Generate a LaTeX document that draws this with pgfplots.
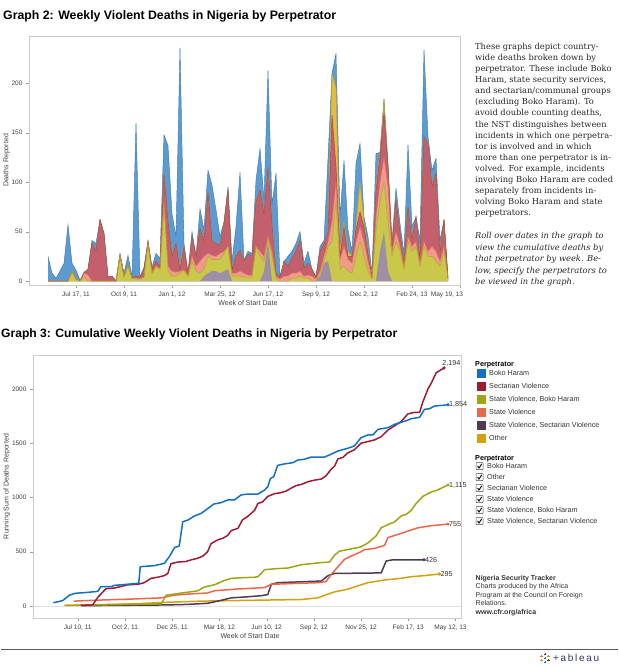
\documentclass[border=0pt]{standalone}
\usepackage{pgfplots}
\pgfplotsset{compat=1.18}
\usepgfplotslibrary{fillbetween}
\usepackage{pgfplotstable}
\usepackage{fontspec}
\setmainfont{Liberation Sans}
\newfontfamily\blockfont{DejaVu Serif}

\definecolor{cBH}{HTML}{1170C0}
\definecolor{cSe}{HTML}{9E1B34}
\definecolor{cSVBH}{HTML}{A0A315}
\definecolor{cSV}{HTML}{E9684D}
\definecolor{cSVSV}{HTML}{4F3A53}
\definecolor{cOt}{HTML}{D1A20E}
% lighter fills for the weekly area chart
\definecolor{fBH}{HTML}{5B9BD1}
\definecolor{eBH}{HTML}{3E7CB8}
\definecolor{fOt}{HTML}{E2BD3E}
\definecolor{eOt}{HTML}{D3A418}
\definecolor{fSe}{HTML}{C4606E}
\definecolor{eSe}{HTML}{A83A4C}
\definecolor{fSV}{HTML}{F1998B}
\definecolor{eSV}{HTML}{E3705A}
\definecolor{fSVBH}{HTML}{C9C84A}
\definecolor{eSVBH}{HTML}{B0AA26}
\definecolor{fSVSV}{HTML}{9D8FA6}

\newcommand\tickfont{\fontsize{6.5}{8}\selectfont}
\newcommand\legfont{\fontsize{7.2}{8.5}\selectfont}

% weekly deaths, stacked tops: B=total (Boko Haram on top), G=Other, R=Sectarian,
% S=State Violence, O=State V.+Boko Haram, P=State V.+Sectarian, Z=baseline
% w = weeks from Jul 17, 2011
\pgfplotstableread{
w B G R S O P Z
-7 25 0 0 0 0 0 0
-6 8 0 0 0 0 0 0
-5 3 0 0 0 0 0 0
-4 10 0 0 0 0 0 0
-3 18 0 0 0 0 0 0
-2 57 0 0 0 0 0 0
-1 18 10 10 10 10 0 0
0 11 2 2 2 2 0 0
1 1 0 0 0 0 0 0
2 9 8 8 8 4 0 0
3 12 12 12 6 0 0 0
4 41 38 38 0 0 0 0
5 38 30 30 0 0 0 0
6 62 62 62 0 0 0 0
7 48 48 48 0 0 0 0
8 4 4 4 0 0 0 0
9 5 5 5 0 0 0 0
10 0 0 0 0 0 0 0
11 28 26 26 26 26 0 0
12 8 5 5 5 5 0 0
13 26 16 16 16 16 0 0
14 4 3 3 3 3 0 0
15 160 5 5 3 2 0 0
16 4 4 4 2 2 0 0
17 14 12 12 4 4 0 0
18 41 40 40 38 38 0 0
19 14 12 12 8 8 0 0
20 28 20 20 15 15 0 0
21 23 15 15 12 12 0 0
22 148 109 109 80 78 0 0
23 137 60 60 15 10 0 0
24 68 25 25 10 5 0 0
25 45 38 38 9 5 0 0
26 236 15 12 10 8 0 0
27 38 35 35 11 11 0 0
28 8 8 8 6 4 0 0
29 50 45 45 25 20 0 0
30 25 25 25 15 10 0 0
31 73 53 53 20 8 0 0
32 52 40 40 25 12 5 0
33 112 90 90 28 25 8 0
34 97 41 41 26 22 10 0
35 72 38 38 25 22 10 0
36 45 36 36 28 22 8 0
37 60 58 58 30 28 10 0
38 95 92 92 35 35 12 0
39 20 11 11 8 5 0 0
40 55 25 25 8 5 0 0
41 110 31 31 10 5 0 0
42 21 20 20 8 4 0 0
43 30 27 27 6 4 0 0
44 28 25 25 6 4 0 0
45 102 80 80 35 35 0 0
46 134 92 92 30 25 0 0
47 82 67 67 25 20 10 0
48 213 115 115 45 42 40 0
49 77 57 57 30 25 0 0
50 109 8 8 5 3 0 0
51 4 4 4 2 0 0 0
52 20 20 20 5 0 0 0
53 25 15 15 5 0 0 0
54 30 23 23 8 3 0 0
55 38 30 30 8 3 0 0
56 50 41 41 10 5 0 0
57 18 13 13 5 3 0 0
58 30 18 18 6 3 0 0
59 12 12 12 5 0 0 0
60 4 4 4 2 0 0 0
61 35 30 30 10 8 5 0
62 41 38 38 25 20 18 0
63 124 50 50 40 35 20 0
64 210 210 168 60 40 0 0
65 230 195 116 100 80 0 0
66 65 30 25 22 12 0 0
67 122 60 55 35 15 0 0
68 52 30 25 22 10 0 0
69 30 25 25 18 8 0 0
70 119 55 52 40 25 0 0
71 139 100 70 55 40 0 0
72 65 60 55 40 25 0 0
73 45 30 28 20 10 0 0
74 8 6 4 3 2 0 0
75 129 95 92 65 50 0 0
76 130 130 126 100 80 30 0
77 184 184 170 125 99 50 0
78 118 116 116 95 60 10 0
79 40 35 35 30 25 0 0
80 94 82 82 50 40 0 0
81 58 48 48 35 30 0 0
82 28 18 18 15 12 0 0
83 138 75 75 45 40 0 0
84 55 41 41 35 30 0 0
85 65 65 65 40 35 0 0
86 41 21 21 18 15 0 0
87 234 146 146 40 35 0 0
88 146 139 139 30 25 0 0
89 112 95 95 35 25 0 0
90 124 109 109 30 20 0 0
91 41 28 28 20 15 0 0
92 62 62 62 35 30 0 0
93 3 3 3 3 3 0 0
}\weekly

\pgfplotsset{
  tab/.style={
    scale only axis,
    axis line style={draw=black!20},
    tick style={draw=black!40},
    major tick length=3pt,
    tick align=outside,
    xtick pos=bottom, ytick pos=left,
    tick label style={font=\tickfont, text=black!75},
    /pgf/number format/assume math mode=true,
    /pgf/number format/1000 sep={},
    label style={font=\fontsize{7}{8}\selectfont, text=black!75},
    clip=false,
  },
  edge/.style={draw=#1, line width=0.45pt, forget plot},
  hid/.style={draw=none, forget plot},
  cum/.style={draw=#1, line width=1.5pt, line join=round},
  endlab/.style={only marks, mark=*, mark size=1.4pt, color=#1,
    nodes near coords, point meta=explicit symbolic,
    every node near coord/.style={anchor=west, font=\legfont, text=black!80, inner sep=1pt}},
}

\begin{document}
\begin{tikzpicture}
\path (0pt,0pt) rectangle (617pt,-667pt);

% ---------- titles ----------
\node[anchor=base west, inner sep=0, font=\bfseries\fontsize{12.3}{14}\selectfont]
  at (2pt,-19.5pt) {Graph 2: Weekly Violent Deaths in Nigeria by Perpetrator};
\node[anchor=base west, inner sep=0, font=\bfseries\fontsize{12.1}{14}\selectfont]
  at (0pt,-337.5pt) {Graph 3: Cumulative Weekly Violent Deaths in Nigeria by Perpetrator};

% ---------- Graph 2 ----------
\begin{axis}[tab,
  at={(28pt,-285pt)}, anchor=south west,
  width=431pt, height=249pt,
  xmin=-11.75, xmax=96, ymin=-4, ymax=247.8,
  ytick={0,50,100,150,200},
  xtick={0,12,...,96},
  xticklabels={{Jul 17, 11},{Oct 9, 11},{Jan 1, 12},{Mar 25, 12},{Jun 17, 12},{Sep 9, 12},{Dec 2, 12},{Feb 24, 13},{\hspace*{-26pt}May 19, 13}},
  xlabel={Week of Start Date},
  ylabel={Deaths Reported},
  xlabel style={at={(axis description cs:0.508,-0.072)}, anchor=center},
  ylabel style={at={(axis description cs:-0.052,0.5)}, anchor=center},
]
\addplot[hid, name path=zero] table[x=w,y=Z]{\weekly};
\addplot[hid, name path=pB] table[x=w,y=B]{\weekly};
\addplot[hid, name path=pG] table[x=w,y=G]{\weekly};
\addplot[hid, name path=pR] table[x=w,y=R]{\weekly};
\addplot[hid, name path=pS] table[x=w,y=S]{\weekly};
\addplot[hid, name path=pO] table[x=w,y=O]{\weekly};
\addplot[hid, name path=pP] table[x=w,y=P]{\weekly};

\addplot[fill=fBH, draw=none, forget plot] fill between[of=pB and zero];
\addplot[edge=eBH] table[x=w,y=B]{\weekly};
\addplot[fill=fOt, draw=none, forget plot] fill between[of=pG and zero];
\addplot[edge=eOt] table[x=w,y=G]{\weekly};
\addplot[fill=fSe, draw=none, forget plot] fill between[of=pR and zero];
\addplot[edge=eSe] table[x=w,y=R]{\weekly};
\addplot[fill=fSV, draw=none, forget plot] fill between[of=pS and zero];
\addplot[edge=eSV] table[x=w,y=S]{\weekly};
\addplot[fill=fSVBH, draw=none, forget plot] fill between[of=pO and zero];
\addplot[edge=eSVBH] table[x=w,y=O]{\weekly};
\addplot[fill=fSVSV, draw=none, forget plot] fill between[of=pP and zero];
\end{axis}

% ---------- side text ----------
\node[anchor=north west, inner sep=0, align=left, text=black!85,
  font=\blockfont\fontsize{8.3}{11.07}\selectfont] at (474pt,-43pt)
{These graphs depict country-\\
wide deaths broken down by\\
perpetrator. These include Boko\\
Haram, state security services,\\
and sectarian/communal groups\\
(excluding Boko Haram). To\\
avoid double counting deaths,\\
the NST distinguishes between\\
incidents in which one perpetra-\\
tor is involved and in which\\
more than one perpetrator is in-\\
volved. For example, incidents\\
involving Boko Haram are coded\\
separately from incidents in-\\
volving Boko Haram and state\\
perpetrators.};
\node[anchor=north west, inner sep=0, align=left, text=black!85,
  font=\blockfont\itshape\fontsize{8.3}{11.6}\selectfont] at (474pt,-232pt)
{Roll over dates in the graph to\\
view the cumulative deaths by\\
that perpetrator by week. Be-\\
low, specify the perpetrators to\\
be viewed in the graph.};

% ---------- Graph 3 ----------
\begin{axis}[tab,
  at={(32pt,-618pt)}, anchor=south west,
  width=428pt, height=263pt,
  xmin=-11.36, xmax=97.4, ymin=-110.6, ymax=2313,
  ytick={0,500,1000,1500,2000},
  xtick={0,12,...,96},
  xticklabels={{Jul 10, 11},{Oct 2, 11},{Dec 25, 11},{Mar 18, 12},{Jun 10, 12},{Sep 2, 12},{Nov 25, 12},{Feb 17, 13},{\hspace*{-10pt}May 12, 13}},
  xlabel={Week of Start Date},
  ylabel={Running Sum of Deaths Reported},
  xlabel style={at={(axis description cs:0.507,-0.068)}, anchor=center},
  ylabel style={at={(axis description cs:-0.061,0.5)}, anchor=center},
]
\addplot[draw=black!12, line width=0.6pt, forget plot] coordinates {(-11.36,0) (97.4,0)};
\addplot[cum=cOt] coordinates {(-3.4,5) (14.4,20) (22.9,35) (31.4,45) (39.8,50) (48.3,55) (56.8,60) (61,75) (63.6,110) (65.3,130) (68.6,155) (72,195) (73.7,215) (78,240) (82.2,255) (84.7,270) (88.1,280) (91.9,295)};
\addplot[cum=cSVSV] coordinates {(0.8,3) (22.9,10) (28,15) (33,25) (35.6,45) (39,75) (43.2,85) (46.6,95) (48.3,105) (49.2,200) (50.8,215) (61.9,230) (63.6,280) (65.3,300) (77.1,305) (78.4,415) (80.1,426) (88,426)};
\addplot[cum=cSV] coordinates {(-1,45) (5.9,55) (14.4,65) (21.2,75) (24.6,100) (28,110) (33,120) (34.7,140) (39.8,155) (44.9,165) (47.5,170) (49.2,200) (56.8,210) (61,215) (63.1,225) (64.4,290) (66.1,360) (67.8,430) (69.5,460) (72,500) (72.9,520) (75.4,530) (78,560) (78.8,630) (81.4,660) (83.9,690) (86.4,720) (89.8,740) (94.1,755)};
\addplot[cum=cSVBH] coordinates {(-3,5) (21.2,20) (22.5,100) (24.6,110) (27.5,125) (30.5,140) (32.2,175) (34.7,195) (37.3,235) (39,255) (41.5,260) (44.9,265) (45.8,270) (47.5,335) (50.8,345) (53.4,350) (55.1,365) (56.8,380) (59.3,390) (61.9,400) (64,405) (65.3,470) (66.5,505) (68.6,520) (72,545) (73.7,580) (75.8,645) (77.1,720) (78.8,750) (80.5,775) (82.2,830) (83.5,845) (84.7,880) (86,945) (87.7,1010) (89.8,1050) (91.5,1070) (94.1,1115)};
\addplot[cum=cSe] coordinates {(0.8,5) (3.8,10) (5.1,80) (7.2,160) (9.3,165) (11,180) (12.7,195) (15.3,200) (16.9,215) (18.6,255) (20.3,265) (22,280) (22.9,300) (23.7,390) (25.4,405) (27.5,410) (28.8,425) (30.5,440) (31.8,460) (33,500) (33.9,575) (35.6,610) (36.9,625) (38.1,650) (39,695) (40.7,715) (41.9,795) (43.2,825) (44.9,880) (45.8,945) (47,960) (48.3,1010) (50,1035) (51.7,1045) (53,1060) (54.2,1085) (55.5,1110) (56.8,1120) (58.5,1145) (60.2,1160) (61.9,1170) (63.1,1200) (64.4,1260) (65.3,1290) (66.1,1355) (67.4,1370) (68.6,1410) (70.3,1440) (72,1500) (73.7,1515) (75.4,1530) (77.1,1560) (78.8,1620) (80.5,1660) (82.2,1700) (83.9,1770) (85.6,1785) (86.9,1785) (87.7,1880) (89,2000) (89.8,2050) (91.1,2150) (93.1,2194)};
\addplot[cum=cBH] coordinates {(-6.2,30) (-3.8,50) (-2.1,100) (-0.7,117) (1.7,123) (5.1,135) (5.9,178) (8.5,178) (9.3,190) (14.4,206) (15.5,209) (15.9,362) (19.5,372) (22,393) (23.3,455) (24.6,538) (25.8,553) (26.7,777) (28,792) (29.7,830) (31.4,854) (33,897) (34.6,940) (36.4,952) (38.1,977) (39.8,977) (41.5,1023) (43.2,1032) (45.8,1032) (47.5,1069) (48.3,1100) (49,1176) (49.8,1192) (50.8,1296) (52.5,1309) (54.7,1321) (55.9,1345) (57.6,1352) (59.3,1373) (62.7,1373) (64,1392) (66.1,1428) (68.6,1453) (70.3,1475) (72,1551) (73.7,1576) (75,1576) (76.3,1628) (78.8,1643) (80.5,1674) (82.2,1693) (83.5,1708) (84.7,1726) (86.9,1739) (88.1,1812) (89.4,1818) (90.7,1843) (94.1,1854)};
% end markers with totals
\addplot[endlab=cOt] coordinates {(91.9,295) [295]};
\addplot[endlab=cSVSV] coordinates {(88,426) [426]};
\addplot[endlab=cSV] coordinates {(94.1,755) [755]};
\addplot[endlab=cSVBH] coordinates {(94.1,1115) [1{,}115]};
\addplot[endlab=cBH] coordinates {(94.1,1854) [1{,}854]};
\addplot[endlab=cSe, every node near coord/.append style={anchor=south west, xshift=-3pt}] coordinates {(93.1,2194) [2{,}194]};
\end{axis}

% ---------- colour legend ----------
\node[anchor=base west, inner sep=0, font=\bfseries\legfont] at (474pt,-366pt) {Perpetrator};
\foreach \c/\t [count=\i from 0] in {cBH/Boko Haram, cSe/Sectarian Violence, cSVBH/{State Violence, Boko Haram}, cSV/State Violence, cSVSV/{State Violence, Sectarian Violence}, cOt/Other}{
  \fill[\c] (476pt,{-369pt-13*\i pt}) rectangle (484.5pt,{-377.5pt-13*\i pt});
  \node[anchor=west, inner sep=0, font=\legfont, text=black!80] at (488pt,{-373.2pt-13*\i pt}) {\t};
}

% ---------- filter list ----------
\node[anchor=base west, inner sep=0, font=\bfseries\legfont] at (474pt,-460pt) {Perpetrator};
\foreach \t [count=\i from 0] in {Boko Haram, Other, Sectarian Violence, State Violence, {State Violence, Boko Haram}, {State Violence, Sectarian Violence}}{
  \draw[black!70, line width=0.5pt, rounded corners=0.5pt] (475pt,{-462.5pt-11*\i pt}) rectangle (482pt,{-469.5pt-11*\i pt});
  \draw[black, line width=0.9pt] (476.6pt,{-466pt-11*\i pt}) -- (478pt,{-468pt-11*\i pt}) -- (480.8pt,{-463.8pt-11*\i pt});
  \node[anchor=west, inner sep=0, font=\legfont, text=black!80] at (486pt,{-466pt-11*\i pt}) {\t};
}

% ---------- footer ----------
\node[anchor=north west, inner sep=0, align=left, font=\fontsize{7}{8.5}\selectfont, text=black!80] at (474.5pt,-575pt)
{\textbf{Nigeria Security Tracker}\\
Charts produced by the Africa\\
Program at the Council on Foreign\\
Relations.\\
\textbf{www.cfr.org/africa}};

\draw[black!65, line width=0.9pt] (0pt,-649pt) -- (617pt,-649pt);

% tableau mark
\foreach \dx/\dy/\c in {0/0/cBH, -3.5/-2/cOt, 3.5/-2/cSe, -3.5/2/cSV, 3.5/2/cSVBH, 0/-4/cBH, 0/4/cSe}{
  \draw[\c, line width=0.6pt] ({544pt+\dx pt-1.3pt},{-658pt+\dy pt}) -- ({544pt+\dx pt+1.3pt},{-658pt+\dy pt});
  \draw[\c, line width=0.6pt] ({544pt+\dx pt},{-658pt+\dy pt-1.3pt}) -- ({544pt+\dx pt},{-658pt+\dy pt+1.3pt});
}
\node[anchor=west, inner sep=0, font=\fontsize{10}{11}\selectfont, text=black!60!blue!60!gray] at (552pt,-658pt) {+\,a\,b\,l\,e\,a\,u};
\end{tikzpicture}
\end{document}
